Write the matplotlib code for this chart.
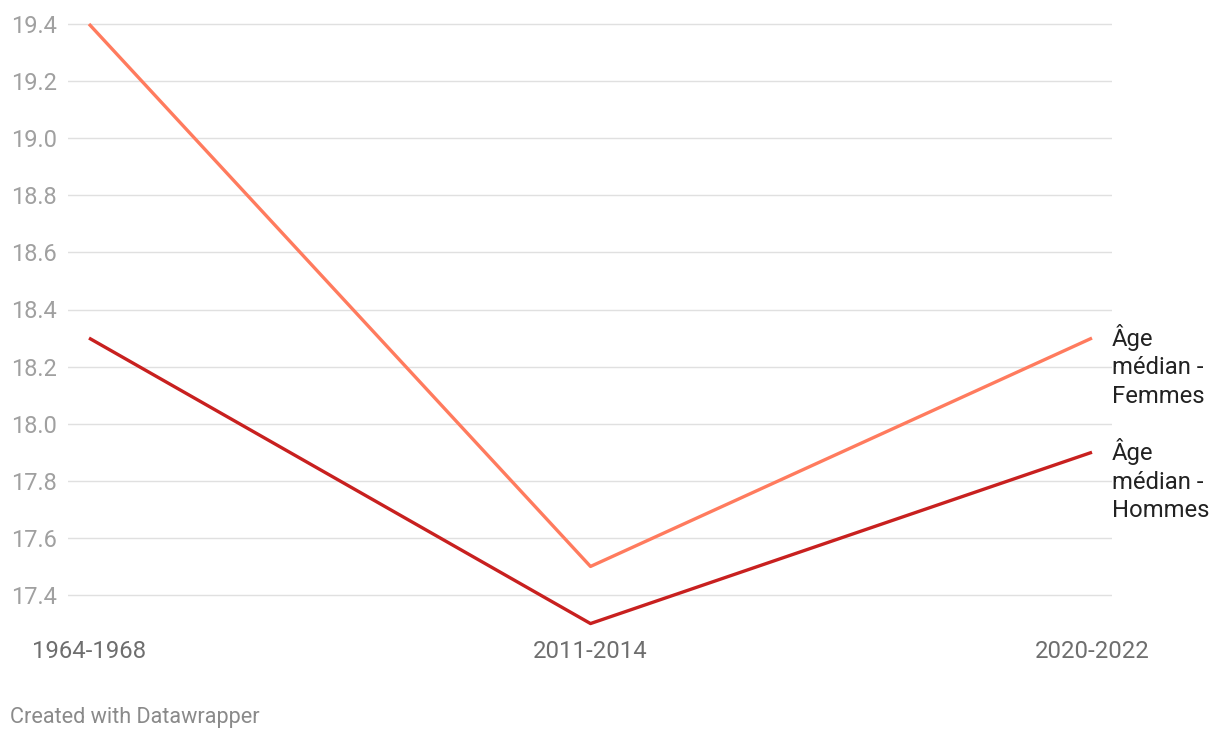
import matplotlib.pyplot as plt
import numpy as np

plt.rcParams['font.family'] = ['Roboto', 'DejaVu Sans']

# données
periodes = ['1964-1968', '2011-2014', '2020-2022']
age_femmes = [19.4, 17.5, 18.3]
age_hommes = [18.3, 17.3, 17.9]
y_ticks = [17.4, 17.6, 17.8, 18.0, 18.2, 18.4, 18.6, 18.8, 19.0, 19.2, 19.4]
labels_series = ['Âge\nmédian -\nFemmes', 'Âge\nmédian -\nHommes']

COL_F = '#ff7b5e'
COL_H = '#c8201f'

fig = plt.figure(figsize=(12.2, 7.4), dpi=100)
ax = fig.add_axes([68/1220, 1 - 630/740, (1112 - 68)/1220, 610/740])

x = np.arange(len(periodes))
ax.plot(x, age_femmes, color=COL_F, lw=2.4, solid_capstyle='butt', clip_on=False, zorder=3)
ax.plot(x, age_hommes, color=COL_H, lw=2.4, solid_capstyle='butt', clip_on=False, zorder=3)

# étiquettes de fin de ligne
for vals, lab in zip([age_femmes, age_hommes], labels_series):
    ax.annotate(lab, xy=(x[-1], vals[-1]), xytext=(14.4, 10), textcoords='offset points',
                va='top', ha='left', fontsize=17.2, color='#222222', linespacing=1.29,
                annotation_clip=False)

ax.set_xlim(-21/501.5, 2 + 20/501.5)
ax.set_ylim(17.4 - 35/285.5, 19.4 + 4/285.5)
ax.set_yticks(y_ticks)
ax.set_yticklabels([f'{v:.1f}' for v in y_ticks])
ax.set_xticks(x)
ax.set_xticklabels(periodes)
ax.grid(axis='y', color='#e0e0e0', lw=1)
ax.set_axisbelow(True)
for s in ax.spines.values():
    s.set_visible(False)
ax.tick_params(axis='y', length=0, pad=8, labelsize=17, labelcolor='#a0a0a0')
ax.tick_params(axis='x', length=0, pad=7, labelsize=17.2, labelcolor='#6e6e6e')

fig.text(10/1220, 1 - 717/740, 'Created with Datawrapper', fontsize=15.6, color='#8a8a8a',
         va='center', ha='left')

plt.savefig('out.png', dpi=100)
